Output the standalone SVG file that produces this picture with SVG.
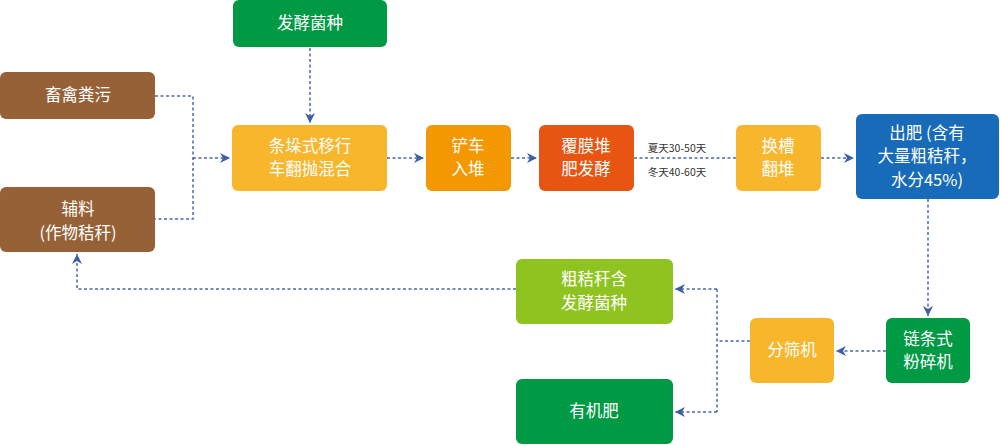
<svg xmlns="http://www.w3.org/2000/svg" width="1000" height="445" viewBox="0 0 1000 445">
<style>
.n text{fill:#fff;font-family:"Noto Sans CJK SC","Noto Sans",sans-serif;font-size:16.5px;text-anchor:middle}
.c path{fill:none;stroke:#4a68a8;stroke-width:1.5;stroke-dasharray:3 2.5}
.lbl{fill:#333;font-family:"Noto Sans CJK SC","Noto Sans",sans-serif;font-size:10.5px;text-anchor:middle}
</style>
<defs>
<marker id="ah" viewBox="0 0 10 10" refX="10" refY="5" markerWidth="10" markerHeight="10" markerUnits="userSpaceOnUse" orient="auto">
<path d="M0,0 L10,5 L0,10 L3,5 Z" fill="#3d5fa3"/>
</marker>
</defs>
<rect width="1000" height="445" fill="#fff"/>
<g class="c">
<path d="M155,96 H193 V219 H155"/>
<path d="M193,158 H230" marker-end="url(#ah)"/>
<path d="M310,48 V123" marker-end="url(#ah)"/>
<path d="M387,158 H424" marker-end="url(#ah)"/>
<path d="M511,158 H537" marker-end="url(#ah)"/>
<path d="M634,158 H736"/>
<path d="M821,158 H854" marker-end="url(#ah)"/>
<path d="M928,199 V316" marker-end="url(#ah)"/>
<path d="M886,351 H836" marker-end="url(#ah)"/>
<path d="M750,341 H717"/>
<path d="M717,289 V412"/>
<path d="M717,289 H675" marker-end="url(#ah)"/>
<path d="M717,412 H675" marker-end="url(#ah)"/>
<path d="M516,289 H77 V254" marker-end="url(#ah)"/>
</g>
<text class="lbl" x="677" y="152">夏天30-50天</text>
<text class="lbl" x="677" y="176">冬天40-60天</text>
<g class="n" id="n1"><rect x="233" y="0" width="154" height="47" rx="6" fill="#009a44"/><text x="310" y="29">发酵菌种</text></g>
<g class="n" id="n2"><rect x="0" y="72" width="155" height="47" rx="6" fill="#966136"/><text x="78" y="101">畜禽粪污</text></g>
<g class="n" id="n3"><rect x="0" y="187" width="155" height="65" rx="6" fill="#966136"/><text x="78" y="215">辅料</text><text x="78" y="239">(作物秸秆)</text></g>
<g class="n" id="n4"><rect x="232" y="125" width="155" height="66" rx="6" fill="#f8b62d"/><text x="310" y="152">条垛式移行</text><text x="310" y="175">车翻抛混合</text></g>
<g class="n" id="n5"><rect x="426" y="125" width="85" height="66" rx="6" fill="#f39800"/><text x="468" y="152">铲车</text><text x="468" y="175">入堆</text></g>
<g class="n" id="n6"><rect x="539" y="125" width="95" height="66" rx="6" fill="#e85412"/><text x="586" y="152">覆膜堆</text><text x="586" y="175">肥发酵</text></g>
<g class="n" id="n7"><rect x="736" y="125" width="85" height="66" rx="6" fill="#f8b62d"/><text x="778" y="152">换槽</text><text x="778" y="175">翻堆</text></g>
<g class="n" id="n8"><rect x="856" y="114" width="143" height="85" rx="6" fill="#176bb8"/><text x="927" y="139">出肥 (含有</text><text x="927" y="162">大量粗秸秆，</text><text x="927" y="186">水分45%)</text></g>
<g class="n" id="n9"><rect x="886" y="318" width="84" height="65" rx="6" fill="#009a44"/><text x="928" y="345">链条式</text><text x="928" y="368">粉碎机</text></g>
<g class="n" id="n10"><rect x="750" y="318" width="84" height="65" rx="6" fill="#f8b62d"/><text x="792" y="356">分筛机</text></g>
<g class="n" id="n11"><rect x="516" y="259" width="157" height="65" rx="6" fill="#8fc31f"/><text x="594" y="285">粗秸秆含</text><text x="594" y="309">发酵菌种</text></g>
<g class="n" id="n12"><rect x="516" y="379" width="157" height="65" rx="6" fill="#009a44"/><text x="594" y="417">有机肥</text></g>
</svg>
